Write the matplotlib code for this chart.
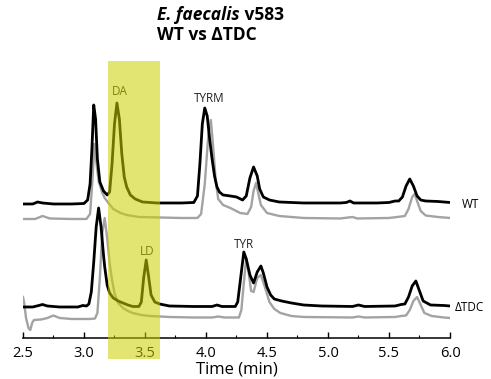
import numpy as np
import matplotlib
matplotlib.use("Agg")
import matplotlib.pyplot as plt
from matplotlib.patches import Rectangle

plt.rcParams['font.family'] = ['Open Sans', 'DejaVu Sans']

# WT, черная линия (время, сигнал над базовой линией)
wt_t = [2.50, 2.58, 2.62, 2.66, 2.75, 2.90, 3.00, 3.03, 3.05, 3.065, 3.08, 3.095, 3.11, 3.13,
        3.16, 3.19, 3.21, 3.23, 3.25, 3.27, 3.29, 3.31, 3.33, 3.35, 3.38, 3.42, 3.48, 3.60,
        3.80, 3.90, 3.93, 3.95, 3.97, 3.99, 4.01, 4.03, 4.05, 4.07, 4.09, 4.11, 4.14, 4.20,
        4.25, 4.30, 4.33, 4.36, 4.39, 4.42, 4.44, 4.47, 4.52, 4.60, 4.80, 5.10, 5.15, 5.18,
        5.21, 5.40, 5.50, 5.55, 5.58, 5.61, 5.64, 5.67, 5.70, 5.73, 5.76, 5.80, 5.90, 6.00]
wt_s = [0, 0, 2, 1, 0, 0, 0.5, 4, 20, 55, 99, 85, 45, 22,
        13, 9, 12, 40, 80, 101, 85, 50, 27, 17, 9, 5, 2, 1,
        1, 1.5, 8, 40, 80, 96, 88, 65, 45, 28, 17, 12, 9, 8,
        7, 4, 8, 26, 37, 28, 15, 7, 4, 2, 1, 1, 1.5, 3,
        1, 1, 1.5, 3, 3, 7, 18, 25, 18, 8, 4, 3, 2.5, 1.5]

# WT, серая линия
wt_g_t = [2.50, 2.60, 2.66, 2.72, 2.90, 3.02, 3.05, 3.07, 3.085, 3.10, 3.12, 3.15, 3.17, 3.20,
          3.24, 3.30, 3.35, 3.45, 3.62, 3.80, 3.93, 3.96, 3.99, 4.02, 4.04, 4.06, 4.08, 4.10,
          4.14, 4.20, 4.28, 4.34, 4.37, 4.39, 4.41, 4.43, 4.45, 4.50, 4.60, 4.80, 5.10, 5.20,
          5.24, 5.50, 5.60, 5.63, 5.66, 5.69, 5.71, 5.73, 5.76, 5.80, 5.90, 6.00]
wt_g_s = [0, 0, 3, 0.5, 0, 0, 5, 40, 75, 58, 38, 26, 21, 16,
          10, 6, 4, 2, 1.5, 1, 1, 5, 35, 85, 99, 70, 38, 20,
          14, 11, 6, 5, 12, 28, 36, 25, 14, 6, 3, 1, 0.5, 2,
          0.5, 1, 2.5, 3, 10, 22, 25, 18, 8, 3.5, 2, 1]

# ΔTDC, черная линия
tdc_t = [2.50, 2.58, 2.63, 2.66, 2.70, 2.80, 2.95, 2.99, 3.02, 3.04, 3.06, 3.08, 3.10, 3.12,
         3.14, 3.16, 3.17, 3.19, 3.21, 3.24, 3.28, 3.32, 3.36, 3.40, 3.45, 3.47, 3.49, 3.51,
         3.53, 3.55, 3.58, 3.62, 3.70, 3.90, 4.05, 4.09, 4.13, 4.24, 4.26, 4.28, 4.31, 4.33,
         4.36, 4.39, 4.42, 4.45, 4.47, 4.50, 4.53, 4.56, 4.62, 4.70, 4.80, 4.95, 5.20, 5.25,
         5.30, 5.55, 5.60, 5.63, 5.66, 5.69, 5.72, 5.75, 5.78, 5.84, 5.95, 6.00]
tdc_s = [0, 0, 1.5, 2.5, 1, 0, 0, 1.5, 1, 3, 15, 45, 80, 99,
         80, 52, 40, 22, 14, 9, 6, 4, 2, 0.5, 0.5, 5, 30, 47,
         30, 12, 5, 3, 1, 0.5, 0.5, 2, 0.5, 0.5, 5, 25, 55, 48,
         32, 24, 35, 41, 34, 20, 12, 8, 6, 4, 2, 1, 0.5, 2,
         0.5, 1, 2.5, 3, 10, 21, 26, 16, 6, 2, 1.5, 1]

# ΔTDC, серая линия
tdc_g_t = [2.50, 2.51, 2.525, 2.545, 2.56, 2.575, 2.59, 2.65, 2.70, 2.75, 2.80, 2.90, 3.05, 3.09,
           3.11, 3.13, 3.15, 3.17, 3.19, 3.21, 3.23, 3.25, 3.28, 3.32, 3.36, 3.40, 3.47, 3.54,
           3.70, 3.90, 4.05, 4.10, 4.15, 4.27, 4.29, 4.31, 4.33, 4.35, 4.37, 4.39, 4.42, 4.45,
           4.48, 4.52, 4.56, 4.61, 4.70, 4.80, 5.20, 5.25, 5.30, 5.55, 5.60, 5.64, 5.67, 5.70,
           5.73, 5.76, 5.79, 5.85, 5.95, 6.00]
tdc_g_s = [21, 15, 0, -10, -12, -5, -2, -1.5, 0, 2.5, 0, -1, -1, -0.5,
           5, 40, 85, 100, 80, 55, 38, 25, 15, 10, 7, 5, 3, 2,
           1, 0.5, 0.5, 1.5, 0.5, 0.5, 8, 35, 60, 45, 27, 26, 40, 43,
           32, 16, 9, 5, 2, 1, 0.5, 1.5, 0.5, 1, 2, 2.5, 8, 17,
           21, 13, 5, 2, 0.5, 0]

peak_labels = ['DA', 'TYRM', 'LD', 'TYR']
peak_label_t = [3.29, 4.03, 3.52, 4.31]
trace_names = ['WT', '\u0394TDC']

fig = plt.figure(figsize=(4.91, 3.79), dpi=100)
ax = fig.add_axes([0.0468, 0.1082, 0.8697, 0.7309])

# смещения трасс по вертикали
off_wt, off_wt_g, off_tdc, off_tdc_g = 134, 119, 31, 20
gray = '#a3a3a3'
ax.plot(wt_g_t, np.array(wt_g_s) + off_wt_g, color=gray, lw=1.7, zorder=2)
ax.plot(wt_t, np.array(wt_s) + off_wt, color='black', lw=2.0, zorder=3)
ax.plot(tdc_g_t, np.array(tdc_g_s) + off_tdc_g, color=gray, lw=1.7, zorder=2)
ax.plot(tdc_t, np.array(tdc_s) + off_tdc, color='black', lw=2.0, zorder=3)

label_y = [246, 239, 86, 93]
for name, t, y in zip(peak_labels, peak_label_t, label_y):
    ax.text(t, y, name, ha='center', va='center', fontsize=8.5, color='#222222')

ax.text(6.10, 133, trace_names[0], ha='left', va='center', fontsize=8.5, clip_on=False)
ax.text(6.04, 30, trace_names[1], ha='left', va='center', fontsize=8.5, clip_on=False)

ax.set_xlim(2.5, 6.0)
ax.set_ylim(0, 277)
for s in ['left', 'right', 'top']:
    ax.spines[s].set_visible(False)
ax.spines['bottom'].set_linewidth(1.1)
ax.set_yticks([])
ax.set_xticks(np.arange(2.5, 6.01, 0.5))
ax.set_xticks(np.arange(2.75, 6.0, 0.5), minor=True)
ax.set_xticklabels(['2.5', '3.0', '3.5', '4.0', '4.5', '5.0', '5.5', '6.0'])
ax.tick_params(axis='x', which='major', direction='in', length=4, width=1, pad=6, labelsize=10.5)
ax.tick_params(axis='x', which='minor', direction='in', length=2.5, width=0.8)
ax.set_xlabel('Time (min)', fontsize=12, labelpad=0)

# желтая полоса поверх всего
band = Rectangle((3.2, -0.076), 0.42, 1.076, transform=ax.get_xaxis_transform(),
                 facecolor=(0.80, 0.82, 0.0), alpha=0.55, edgecolor='none',
                 clip_on=False, zorder=10)
ax.add_patch(band)

# заголовок
t1 = fig.text(157 / 491, 1 - 15 / 379, 'E. faecalis', fontsize=12.5, fontweight='bold',
              fontstyle='italic', va='center', ha='left')
fig.canvas.draw()
bb = t1.get_window_extent()
fig.text(bb.x1 / fig.bbox.width, 1 - 15 / 379, ' v583', fontsize=12.5, fontweight='bold',
         va='center', ha='left')
fig.text(157 / 491, 1 - 35 / 379, 'WT vs \u0394TDC', fontsize=12.5, fontweight='bold',
         va='center', ha='left')

fig.savefig('out.png', dpi=100)
